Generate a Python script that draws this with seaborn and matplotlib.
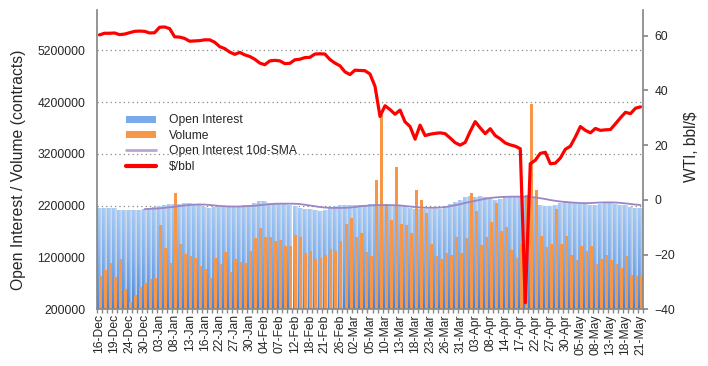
"""Open interest / volume bars with WTI price on a second axis."""
import numpy as np
import pandas as pd
import matplotlib
matplotlib.use("Agg")
import matplotlib.pyplot as plt
import seaborn as sns
from matplotlib.patches import Patch
from matplotlib.lines import Line2D

# x tick labels, one every third trading day (16-Dec .. 21-May)
tick_labels = ["16-Dec", "19-Dec", "24-Dec", "30-Dec", "03-Jan", "08-Jan", "13-Jan",
               "16-Jan", "22-Jan", "27-Jan", "30-Jan", "04-Feb", "07-Feb", "12-Feb",
               "18-Feb", "21-Feb", "26-Feb", "02-Mar", "05-Mar", "10-Mar", "13-Mar",
               "18-Mar", "23-Mar", "26-Mar", "31-Mar", "03-Apr", "08-Apr", "14-Apr",
               "17-Apr", "22-Apr", "27-Apr", "30-Apr", "05-May", "08-May", "13-May",
               "18-May", "21-May"]

open_interest = [2135000, 2140000, 2140000, 2135000, 2110000, 2105000, 2105000, 2105000,
                 2105000, 2120000, 2140000, 2165000, 2180000, 2205000, 2225000, 2215000,
                 2225000, 2235000, 2230000, 2225000, 2200000, 2160000, 2150000, 2160000,
                 2165000, 2170000, 2180000, 2175000, 2180000, 2190000, 2205000, 2235000,
                 2275000, 2270000, 2245000, 2245000, 2225000, 2215000, 2205000, 2180000,
                 2150000, 2130000, 2115000, 2100000, 2085000, 2110000, 2160000, 2180000,
                 2195000, 2200000, 2200000, 2195000, 2195000, 2200000, 2215000, 2210000,
                 2210000, 2210000, 2200000, 2195000, 2180000, 2170000, 2150000, 2130000,
                 2120000, 2115000, 2115000, 2120000, 2130000, 2165000, 2215000, 2265000,
                 2300000, 2345000, 2375000, 2360000, 2365000, 2345000, 2320000, 2300000,
                 2320000, 2345000, 2360000, 2365000, 2365000, 2375000, 2385000, 2360000,
                 2195000, 2185000, 2175000, 2190000, 2230000, 2285000, 2245000, 2230000,
                 2215000, 2210000, 2205000, 2205000, 2220000, 2230000, 2245000, 2225000,
                 2205000, 2190000, 2165000, 2150000, 2145000]

volume = [849000, 959000, 1089000, 824000, 1172000, 592000, 341000, 476000, 631000,
          708000, 785000, 805000, 1829000, 1384000, 1095000, 2447000, 1462000, 1263000,
          1224000, 1191000, 1037000, 979000, 805000, 1191000, 1075000, 1310000, 920000,
          1178000, 1114000, 1095000, 1333000, 1578000, 1771000, 1597000, 1597000, 1520000,
          1539000, 1423000, 1423000, 1636000, 1597000, 1288000, 1327000, 1172000, 1191000,
          1249000, 1365000, 1327000, 1520000, 1848000, 1964000, 1597000, 1674000, 1307000,
          1236000, 2699000, 3950000, 2229000, 1926000, 2950000, 1848000, 1829000, 1674000,
          2505000, 2312000, 2061000, 1462000, 1230000, 1172000, 1288000, 1249000, 1597000,
          1288000, 1578000, 2447000, 2100000, 1443000, 1597000, 1887000, 2254000, 1713000,
          1790000, 1346000, 1191000, 1462000, 2408000, 4167000, 2505000, 1616000, 1404000,
          1462000, 2138000, 1462000, 1616000, 1249000, 1153000, 1423000, 1327000, 1423000,
          1075000, 1172000, 1249000, 1153000, 1075000, 998000, 1230000, 863000, 844000,
          844000]

# 10-day SMA of open interest, starts on the 10th trading day
oi_sma = [2135000, 2140000, 2145000, 2150000, 2160000, 2170000, 2180000, 2195000,
          2205000, 2215000, 2222000, 2225000, 2222000, 2215000, 2205000, 2195000,
          2190000, 2185000, 2185000, 2185000, 2190000, 2195000, 2200000, 2210000,
          2220000, 2230000, 2238000, 2240000, 2240000, 2240000, 2238000, 2232000,
          2220000, 2205000, 2190000, 2175000, 2165000, 2160000, 2158000, 2158000,
          2160000, 2165000, 2175000, 2190000, 2198000, 2205000, 2210000, 2212000,
          2212000, 2212000, 2210000, 2205000, 2195000, 2185000, 2175000, 2168000,
          2162000, 2160000, 2160000, 2165000, 2175000, 2190000, 2210000, 2230000,
          2255000, 2275000, 2295000, 2315000, 2335000, 2350000, 2360000, 2368000,
          2372000, 2375000, 2376000, 2376000, 2375000, 2370000, 2360000, 2345000,
          2330000, 2310000, 2295000, 2282000, 2272000, 2265000, 2258000, 2252000,
          2250000, 2252000, 2258000, 2262000, 2265000, 2265000, 2262000, 2255000,
          2245000, 2235000, 2222000, 2215000]

wti_price = [60.3, 60.9, 60.9, 61.0, 60.4, 60.6, 61.1, 61.6, 61.7, 61.6, 61.0, 61.1,
             63.1, 63.2, 62.6, 59.6, 59.5, 59.0, 58.0, 58.1, 58.2, 58.5, 58.5, 57.6,
             56.0, 55.3, 54.0, 53.2, 53.9, 53.0, 52.4, 51.4, 50.0, 49.4, 50.8, 51.0,
             50.8, 49.8, 49.9, 51.2, 51.4, 52.0, 52.1, 53.3, 53.4, 53.3, 51.3, 50.0,
             49.0, 46.8, 45.8, 47.4, 47.3, 47.2, 46.0, 41.5, 30.5, 34.4, 33.0, 31.3,
             32.8, 28.5, 26.8, 22.2, 27.3, 23.5, 24.0, 24.3, 24.5, 24.2, 22.6, 20.9,
             20.0, 21.0, 25.0, 28.6, 26.3, 24.2, 26.0, 23.5, 22.3, 20.8, 20.1, 19.6,
             18.7, -37.6, 13.2, 14.5, 17.0, 17.4, 13.2, 13.4, 15.3, 18.5, 19.6, 23.0,
             26.8, 25.4, 24.5, 26.1, 25.4, 25.6, 25.7, 27.8, 30.0, 32.0, 31.5, 33.5,
             34.0]

ORANGE = "#f79646"
SMA_COLOR = "#9a86c6"
Y_MIN, Y_MAX = 200000, 5980000

sns.set_theme(style="white")
plt.rcParams["font.family"] = ["Liberation Sans", "DejaVu Sans"]

n = len(open_interest)
idx = np.arange(n)
df = pd.DataFrame({"pos": idx, "oi": open_interest, "volume": volume, "price": wti_price})
sma = pd.DataFrame({"pos": idx[n - len(oi_sma):], "sma": oi_sma})

fig = plt.figure(figsize=(7.08, 3.66), dpi=100)
ax = fig.add_axes([97 / 708, 56.7 / 366, 546 / 708, 299.3 / 366])

# open interest bars, later painted with a gradient
sns.barplot(x=df["pos"] - 0.02, y=df["oi"], native_scale=True, width=0.9,
            color="#7fb0ee", errorbar=None, ax=ax)
oi_patches = list(ax.patches)

# gradient fill: darker blue low, pale at top, washing to grey on the right side
ny, nx = 80, 20
t = np.linspace(0, 1, ny)[:, None, None]
s = np.linspace(0, 1, nx)[None, :, None]
dark = np.array([0.24, 0.50, 0.85])
light = np.array([0.64, 0.79, 0.97])
grey = np.array([0.87, 0.88, 0.90])
blue = dark + (light - dark) * t ** 0.7
mix = np.clip((s - 0.4) / 0.6, 0, 1) * 0.9
grad = blue * (1 - mix) + grey * mix
for p in oi_patches:
    x0, w, h = p.get_x(), p.get_width(), p.get_height()
    p.set_visible(False)
    ax.imshow(grad, extent=[x0, x0 + w, Y_MIN, h], origin="lower", aspect="auto",
              interpolation="bilinear", zorder=1.5)

sns.barplot(x=df["pos"] + 0.21, y=df["volume"], native_scale=True, width=0.6,
            color=ORANGE, saturation=1, errorbar=None, ax=ax, zorder=2)
for p in ax.patches[len(oi_patches):]:
    p.set_edgecolor("none")

sns.lineplot(data=sma, x="pos", y="sma", color=SMA_COLOR, lw=1.3, ax=ax, zorder=3)

ax.set_xlim(-0.5, n - 0.5)
ax.set_ylim(Y_MIN, Y_MAX)
ax.set_yticks(np.arange(200000, 5300000, 1000000))
ax.set_yticklabels([f"{v}" for v in range(200000, 5300000, 1000000)])
ax.set_xticks(idx[::3])
ax.set_xticklabels(tick_labels, rotation=90)
ax.set_xticks(np.arange(-0.5, n, 1), minor=True)
ax.tick_params(axis="x", which="major", length=0, pad=3.5, labelsize=8.7)
ax.tick_params(axis="x", which="minor", length=3, color="#888888", bottom=True)
ax.tick_params(axis="y", length=0, pad=8.5, labelsize=8.7)
ax.set_axisbelow(True)
ax.yaxis.grid(True, linestyle=(0, (1, 2.5)), color="#888888", lw=0.9)
ax.xaxis.grid(False)
ax.set_xlabel("")
ax.set_ylabel("Open Interest / Volume (contracts)", fontsize=11.3, va="center")
ax.yaxis.set_label_coords(-0.144, 0.465)
for side in ["left", "bottom"]:
    ax.spines[side].set_color("#888888")
ax.spines["top"].set_visible(False)
ax.spines["right"].set_visible(False)

# WTI price on the right axis
ax2 = ax.twinx()
sns.lineplot(data=df, x="pos", y="price", color="#ff0000", lw=2.3, ax=ax2)
ax2.set_ylim(-40, 69.4)
ax2.set_yticks(np.arange(-40, 61, 20))
ax2.tick_params(axis="y", length=3.3, color="#888888", pad=4.8, labelsize=8.7)
ax2.set_ylabel("WTI, bbl/$", fontsize=11.2, va="center", rotation=90)
ax2.yaxis.set_label_coords(1.089, 0.542)
ax2.set_xlabel("")
for side in ["left", "top", "bottom"]:
    ax2.spines[side].set_visible(False)
ax2.spines["right"].set_color("#888888")
ax2.grid(False)

handles = [Patch(facecolor="#79aaeb", edgecolor="none"),
           Patch(facecolor=ORANGE, edgecolor="none"),
           Line2D([], [], color="#b8a7d4", lw=2),
           Line2D([], [], color="#ff0000", lw=3)]
labels = ["Open Interest", "Volume", "Open Interest 10d-SMA", "$/bbl"]
ax2.legend(handles, labels, loc="upper left", bbox_to_anchor=(126 / 708, 1 - 114.5 / 366),
           bbox_transform=fig.transFigure, frameon=False, fontsize=8.7, borderpad=0,
           borderaxespad=0, handlelength=2.45, handleheight=0.5, handletextpad=1.1,
           labelspacing=0.28)

fig.savefig("out.png", dpi=100)
